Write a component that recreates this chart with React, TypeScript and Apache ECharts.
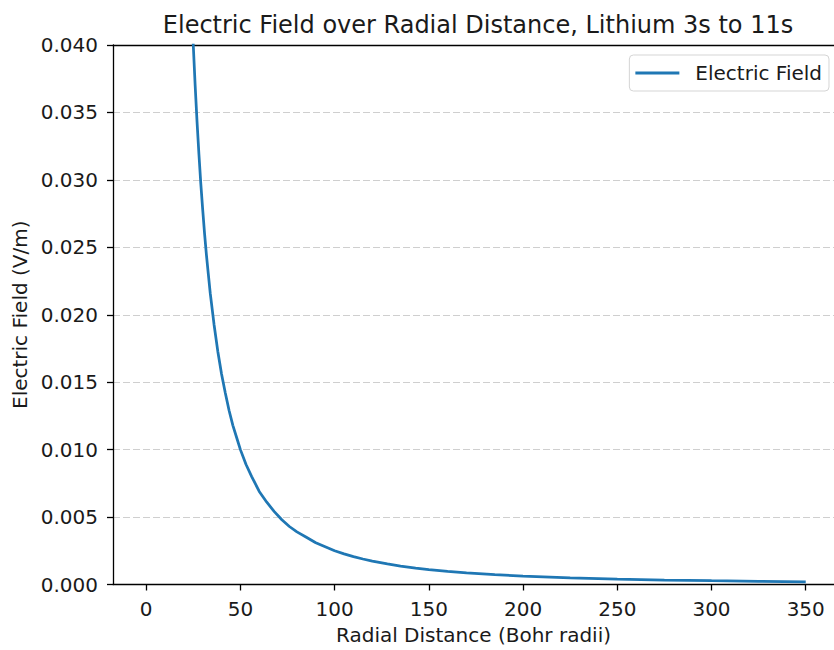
import React, { useEffect, useRef } from "react";
import * as echarts from "echarts";

const radialDistance = [24, 25, 26, 27, 28, 29, 30, 31, 32, 33, 34, 36, 38, 40, 42, 44, 46, 48, 50, 53, 56, 60, 64, 68, 72, 76, 80, 85, 90, 95, 100, 105, 110, 115, 120, 128, 135, 143, 150, 160, 170, 185, 200, 225, 250, 275, 300, 325, 350];
const electricField = [0.0434, 0.04, 0.037, 0.0343, 0.0319, 0.0297, 0.0278, 0.026, 0.0244, 0.023, 0.0216, 0.0193, 0.0173, 0.0156, 0.0142, 0.0129, 0.0118, 0.0109, 0.01, 0.0089, 0.008, 0.0069, 0.0061, 0.0054, 0.0048, 0.0043, 0.0039, 0.0035, 0.0031, 0.0028, 0.0025, 0.00227, 0.00207, 0.00189, 0.00174, 0.00153, 0.00137, 0.00122, 0.00111, 0.00098, 0.00087, 0.00073, 0.00063, 0.0005, 0.0004, 0.00033, 0.00028, 0.00024, 0.0002];
const xTicks = [0, 50, 100, 150, 200, 250, 300, 350];
const titleText = "Electric Field over Radial Distance, Lithium 3s to 11s";
const xName = "Radial Distance (Bohr radii)";
const yName = "Electric Field (V/m)";
const seriesName = "Electric Field";

const FONT = "DejaVu Sans";
const INK = "#1a1a1a";

export default function App() {
  const ref = useRef<HTMLDivElement>(null);
  useEffect(() => {
    if (!ref.current) return;
    const chart = echarts.init(ref.current, null, { renderer: "svg" });
    const data = radialDistance.map((r, i) => [r, electricField[i]]);
    chart.setOption({
      animation: false,
      backgroundColor: "#ffffff",
      textStyle: { fontFamily: FONT },
      title: {
        text: titleText,
        left: 473,
        top: 8,
        textAlign: "center",
        textStyle: { fontFamily: FONT, fontSize: 24, fontWeight: "normal", color: INK },
      },
      legend: {
        right: 5,
        top: 55,
        padding: [8, 7, 8, 6],
        borderColor: "#d5d5d5",
        borderWidth: 1,
        borderRadius: 4,
        backgroundColor: "#fff",
        itemWidth: 44,
        itemHeight: 3,
        icon: "rect",
        data: [seriesName],
        textStyle: { fontFamily: FONT, fontSize: 20, color: INK, padding: [0, 0, 0, 11] },
      },
      grid: { left: 113, top: 45, right: 0, bottom: 65.5, containLabel: false },
      xAxis: [
        {
          type: "value",
          min: -17.6,
          max: 365,
          name: xName,
          nameLocation: "middle",
          nameGap: 40,
          nameTextStyle: { fontFamily: FONT, fontSize: 20, color: INK },
          axisLine: { show: true, onZero: false, lineStyle: { color: "#000", width: 1.3 } },
          axisTick: { show: true, length: 6, customValues: xTicks, lineStyle: { color: "#000", width: 1.3 } },
          axisLabel: { customValues: xTicks, margin: 14, fontFamily: FONT, fontSize: 20, color: INK },
          splitLine: { show: false },
        },
        {
          type: "value",
          position: "top",
          min: -17.6,
          max: 365,
          axisLine: { show: true, onZero: false, lineStyle: { color: "#000", width: 1.3 } },
          axisTick: { show: false },
          axisLabel: { show: false },
          splitLine: { show: false },
        },
      ],
      yAxis: {
        type: "value",
        min: 0,
        max: 0.04,
        interval: 0.005,
        name: yName,
        nameLocation: "middle",
        nameGap: 83,
        nameTextStyle: { fontFamily: FONT, fontSize: 20, color: INK },
        axisLine: { show: true, onZero: false, lineStyle: { color: "#000", width: 1.3 } },
        axisTick: { show: true, length: 6, lineStyle: { color: "#000", width: 1.3 } },
        axisLabel: {
          margin: 15,
          fontFamily: FONT,
          fontSize: 20,
          color: INK,
          formatter: (v: number) => v.toFixed(3),
        },
        splitLine: { show: true, lineStyle: { color: "#cfcfcf", width: 1.1, type: [7, 3] } },
      },
      series: [
        {
          name: seriesName,
          type: "line",
          xAxisIndex: 0,
          data,
          symbol: "none",
          smooth: false,
          clip: true,
          lineStyle: { color: "#1f77b4", width: 2.75 },
          itemStyle: { color: "#1f77b4" },
        },
      ],
    });
    return () => chart.dispose();
  }, []);
  return <div ref={ref} style={{ position: "absolute", left: 0, top: 0, width: 834, height: 650 }} />;
}
